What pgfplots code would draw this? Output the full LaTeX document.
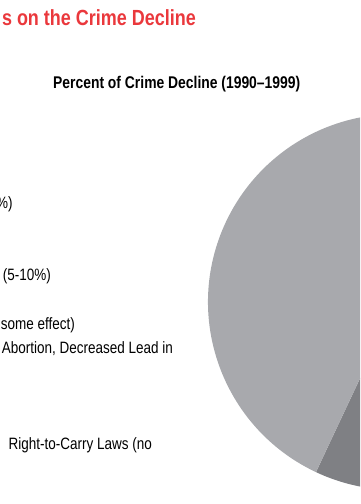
\documentclass[border=0pt]{standalone}
\usepackage{pgfplots}
\pgfplotsset{compat=1.18}
\usepackage{pgfplotstable}
\usepackage{fontspec}
\setmainfont{Liberation Sans}[FakeStretch=0.82]
\definecolor{titlered}{RGB}{234,56,60}
\definecolor{lightpie}{RGB}{168,169,173}
\definecolor{darkpie}{RGB}{127,128,132}
\definecolor{midpie}{RGB}{190,191,194}
\definecolor{deeppie}{RGB}{95,96,100}
% slices in clockwise order starting at 12 o'clock (percent)
\pgfplotstableread{
label value color
A 12 midpie
B 8 deeppie
C 6 midpie
D 21 deeppie
E 10 darkpie
F 43 lightpie
}\piedata
\begin{document}
\begin{tikzpicture}[x=1bp,y=1bp]
\useasboundingbox (0,0) rectangle (360,504);
\clip (0,0) rectangle (360,504);
\begin{axis}[x=1bp,y=1bp,xmin=0,xmax=360,ymin=0,ymax=504,
  hide axis,anchor=origin,at={(0,0)},clip=false]
\def\cumangle{90}
\pgfplotsforeachungrouped \i in {0,...,5}{%
  \pgfplotstablegetelem{\i}{value}\of\piedata \let\val\pgfplotsretval
  \pgfplotstablegetelem{\i}{color}\of\piedata \let\col\pgfplotsretval
  \pgfmathsetmacro\endangle{\cumangle-3.6*\val}%
  \edef\temp{\noexpand\fill[\col] (axis cs:396,202) -- ++(\cumangle:188bp)
    arc[start angle=\cumangle, end angle=\endangle, radius=188bp] -- cycle;}%
  \temp
  \global\let\cumangle\endangle
}
\end{axis}
\node[anchor=base east,inner sep=0,text=titlered,font=\fontsize{22}{26}\selectfont\bfseries] at (196,478) {s on the Crime Decline};
\node[anchor=base west,inner sep=0,font=\fontsize{17}{20}\selectfont\bfseries] at (53,415) {Percent of Crime Decline (1990–1999)};
\begin{scope}[every node/.style={anchor=base east,inner sep=0,font=\fontsize{16.5}{19}\selectfont}]
\node at (12.7,295.5) {\%)};
\node at (51,223) {(5-10\%)};
\node at (75,174) {some effect)};
\node at (173,150) {Abortion, Decreased Lead in};
\node at (152,54) {Right-to-Carry Laws (no};
\end{scope}
\end{tikzpicture}
\end{document}
